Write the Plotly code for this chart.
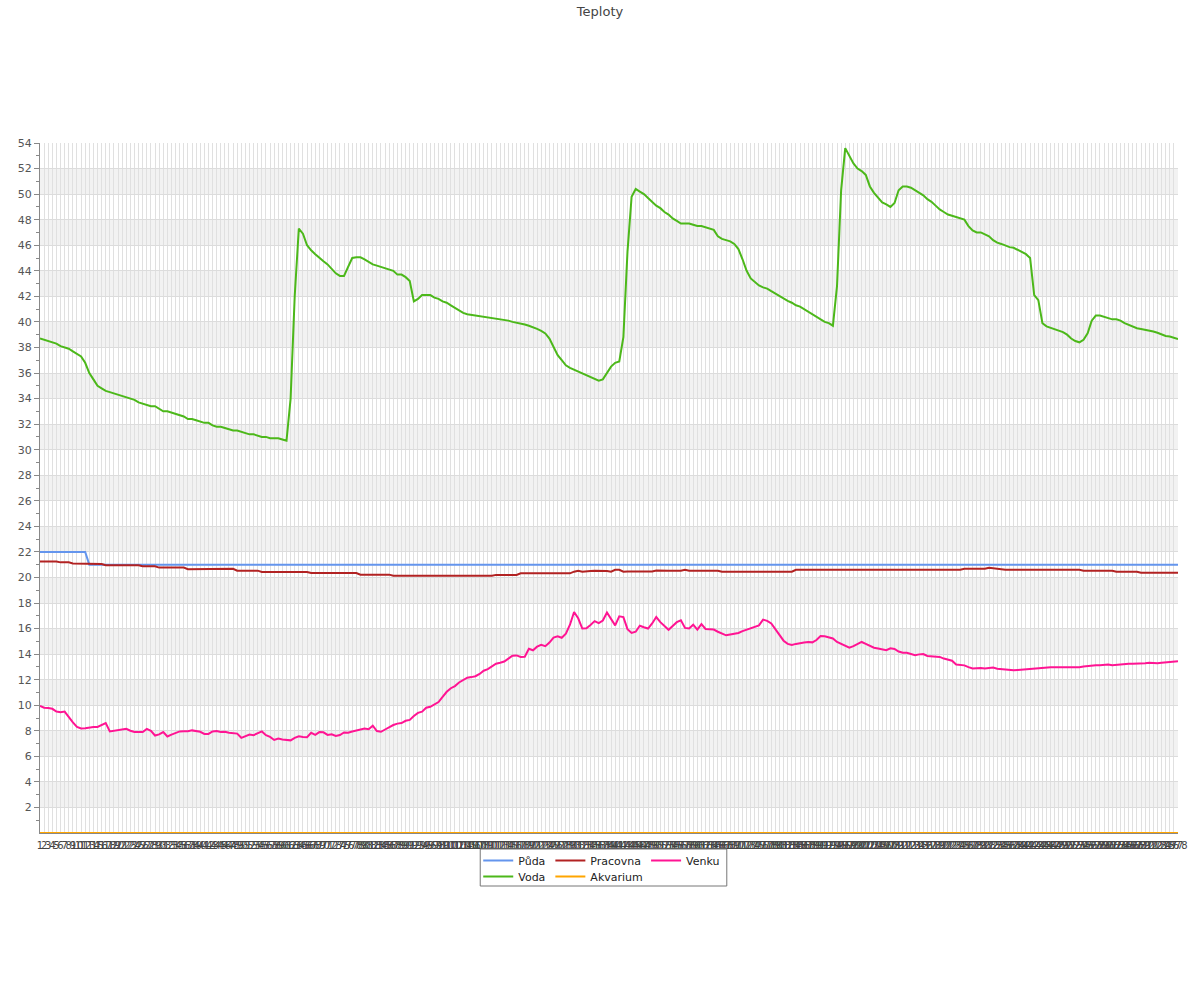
import plotly.graph_objects as go

categories = [str(i) for i in range(1, 279)]

puda = [
    22.0, 22.0, 22.0, 22.0, 22.0, 22.0, 22.0, 22.0, 22.0, 22.0,
    22.0, 22.0, 21.0, 21.0, 21.0, 21.0, 21.0, 21.0, 21.0, 21.0,
    21.0, 21.0, 21.0, 21.0, 21.0, 21.0, 21.0, 21.0, 21.0, 21.0,
    21.0, 21.0, 21.0, 21.0, 21.0, 21.0, 21.0, 21.0, 21.0, 21.0,
    21.0, 21.0, 21.0, 21.0, 21.0, 21.0, 21.0, 21.0, 21.0, 21.0,
    21.0, 21.0, 21.0, 21.0, 21.0, 21.0, 21.0, 21.0, 21.0, 21.0,
    21.0, 21.0, 21.0, 21.0, 21.0, 21.0, 21.0, 21.0, 21.0, 21.0,
    21.0, 21.0, 21.0, 21.0, 21.0, 21.0, 21.0, 21.0, 21.0, 21.0,
    21.0, 21.0, 21.0, 21.0, 21.0, 21.0, 21.0, 21.0, 21.0, 21.0,
    21.0, 21.0, 21.0, 21.0, 21.0, 21.0, 21.0, 21.0, 21.0, 21.0,
    21.0, 21.0, 21.0, 21.0, 21.0, 21.0, 21.0, 21.0, 21.0, 21.0,
    21.0, 21.0, 21.0, 21.0, 21.0, 21.0, 21.0, 21.0, 21.0, 21.0,
    21.0, 21.0, 21.0, 21.0, 21.0, 21.0, 21.0, 21.0, 21.0, 21.0,
    21.0, 21.0, 21.0, 21.0, 21.0, 21.0, 21.0, 21.0, 21.0, 21.0,
    21.0, 21.0, 21.0, 21.0, 21.0, 21.0, 21.0, 21.0, 21.0, 21.0,
    21.0, 21.0, 21.0, 21.0, 21.0, 21.0, 21.0, 21.0, 21.0, 21.0,
    21.0, 21.0, 21.0, 21.0, 21.0, 21.0, 21.0, 21.0, 21.0, 21.0,
    21.0, 21.0, 21.0, 21.0, 21.0, 21.0, 21.0, 21.0, 21.0, 21.0,
    21.0, 21.0, 21.0, 21.0, 21.0, 21.0, 21.0, 21.0, 21.0, 21.0,
    21.0, 21.0, 21.0, 21.0, 21.0, 21.0, 21.0, 21.0, 21.0, 21.0,
    21.0, 21.0, 21.0, 21.0, 21.0, 21.0, 21.0, 21.0, 21.0, 21.0,
    21.0, 21.0, 21.0, 21.0, 21.0, 21.0, 21.0, 21.0, 21.0, 21.0,
    21.0, 21.0, 21.0, 21.0, 21.0, 21.0, 21.0, 21.0, 21.0, 21.0,
    21.0, 21.0, 21.0, 21.0, 21.0, 21.0, 21.0, 21.0, 21.0, 21.0,
    21.0, 21.0, 21.0, 21.0, 21.0, 21.0, 21.0, 21.0, 21.0, 21.0,
    21.0, 21.0, 21.0, 21.0, 21.0, 21.0, 21.0, 21.0, 21.0, 21.0,
    21.0, 21.0, 21.0, 21.0, 21.0, 21.0, 21.0, 21.0, 21.0, 21.0,
    21.0, 21.0, 21.0, 21.0, 21.0, 21.0, 21.0, 21.0,
]

voda = [
    38.7, 38.6, 38.5, 38.4, 38.3, 38.1, 38.0, 37.9, 37.7, 37.5,
    37.3, 36.8, 36.0, 35.5, 35.0, 34.8, 34.6, 34.5, 34.4, 34.3,
    34.2, 34.1, 34.0, 33.9, 33.7, 33.6, 33.5, 33.4, 33.4, 33.2,
    33.0, 33.0, 32.9, 32.8, 32.7, 32.6, 32.4, 32.4, 32.3, 32.2,
    32.1, 32.1, 31.9, 31.8, 31.8, 31.7, 31.6, 31.5, 31.5, 31.4,
    31.3, 31.2, 31.2, 31.1, 31.0, 31.0, 30.9, 30.9, 30.9, 30.8,
    30.7, 34.0, 42.0, 47.3, 46.9, 46.0, 45.6, 45.3, 45.0, 44.75,
    44.5, 44.15, 43.8, 43.6, 43.6, 44.3, 45.0, 45.05, 45.05, 44.9,
    44.7, 44.5, 44.4, 44.3, 44.2, 44.1, 44.0, 43.7, 43.7, 43.5,
    43.2, 41.6, 41.8, 42.1, 42.1, 42.1, 41.9, 41.8, 41.6, 41.5,
    41.3, 41.1, 40.9, 40.7, 40.6, 40.55, 40.5, 40.45, 40.4, 40.35,
    40.3, 40.3, 40.25, 40.2, 40.1, 40.0, 39.95, 39.85, 39.8, 39.7,
    39.6, 39.45, 39.3, 39.1, 38.7, 38.0, 37.4, 37.0, 36.6, 36.4,
    36.25, 36.1, 36.0, 35.85, 35.7, 35.5, 35.4, 35.5, 36.0, 36.5,
    36.8, 36.9, 38.8, 45.5, 49.8, 50.4, 50.2, 50.0, 49.7, 49.4,
    49.1, 48.9, 48.6, 48.4, 48.1, 47.9, 47.7, 47.7, 47.7, 47.6,
    47.5, 47.5, 47.4, 47.35, 47.2, 46.7, 46.5, 46.4, 46.3, 46.1,
    45.7, 44.9, 44.0, 43.4, 43.1, 42.85, 42.7, 42.6, 42.4, 42.2,
    42.0, 41.85, 41.65, 41.5, 41.3, 41.2, 41.0, 40.8, 40.6, 40.45,
    40.25, 40.0, 39.9, 39.7, 42.8, 50.3, 53.6, 53.0, 52.4, 52.0,
    51.8, 51.5, 50.6, 50.1, 49.7, 49.35, 49.2, 49.0, 49.3, 50.3,
    50.6, 50.6, 50.5, 50.3, 50.1, 49.9, 49.6, 49.4, 49.1, 48.8,
    48.6, 48.4, 48.3, 48.2, 48.1, 48.0, 47.5, 47.15, 47.0, 47.0,
    46.85, 46.7, 46.4, 46.2, 46.1, 45.95, 45.85, 45.8, 45.65, 45.5,
    45.3, 45.0, 42.1, 41.7, 39.9, 39.65, 39.55, 39.45, 39.35, 39.2,
    39.0, 38.7, 38.5, 38.4, 38.6, 39.1, 40.1, 40.5, 40.5, 40.4,
    40.35, 40.2, 40.2, 40.1, 39.9, 39.75, 39.6, 39.5, 39.45, 39.4,
    39.3, 39.25, 39.15, 39.0, 38.9, 38.85, 38.75, 38.65,
]

pracovna = [
    21.25, 21.25, 21.25, 21.25, 21.25, 21.18, 21.18, 21.18, 21.1, 21.1,
    21.1, 21.1, 21.05, 21.05, 21.05, 21.05, 20.95, 20.95, 20.95, 20.95,
    20.95, 20.95, 20.95, 20.95, 20.95, 20.87, 20.87, 20.87, 20.87, 20.77,
    20.77, 20.77, 20.77, 20.77, 20.77, 20.77, 20.65, 20.65, 20.65, 20.65,
    20.65, 20.65, 20.65, 20.65, 20.65, 20.65, 20.65, 20.68, 20.53, 20.53,
    20.53, 20.53, 20.53, 20.53, 20.43, 20.43, 20.43, 20.43, 20.43, 20.43,
    20.43, 20.43, 20.43, 20.43, 20.43, 20.43, 20.35, 20.35, 20.35, 20.35,
    20.35, 20.35, 20.35, 20.35, 20.35, 20.35, 20.35, 20.35, 20.22, 20.22,
    20.22, 20.22, 20.22, 20.22, 20.22, 20.22, 20.14, 20.14, 20.14, 20.14,
    20.14, 20.14, 20.14, 20.14, 20.14, 20.14, 20.14, 20.14, 20.14, 20.14,
    20.14, 20.14, 20.14, 20.14, 20.14, 20.14, 20.14, 20.14, 20.14, 20.14,
    20.14, 20.2, 20.2, 20.2, 20.2, 20.2, 20.2, 20.32, 20.32, 20.32,
    20.32, 20.32, 20.32, 20.32, 20.32, 20.32, 20.32, 20.32, 20.32, 20.32,
    20.45, 20.53, 20.45, 20.45, 20.5, 20.53, 20.53, 20.53, 20.5, 20.45,
    20.6, 20.6, 20.45, 20.47, 20.47, 20.47, 20.47, 20.52, 20.47, 20.47,
    20.55, 20.53, 20.53, 20.53, 20.53, 20.53, 20.53, 20.6, 20.53, 20.53,
    20.53, 20.53, 20.53, 20.53, 20.53, 20.53, 20.45, 20.45, 20.45, 20.45,
    20.45, 20.45, 20.45, 20.45, 20.45, 20.45, 20.45, 20.45, 20.45, 20.45,
    20.45, 20.45, 20.45, 20.45, 20.6, 20.6, 20.6, 20.6, 20.6, 20.6,
    20.6, 20.6, 20.6, 20.6, 20.6, 20.6, 20.6, 20.6, 20.6, 20.6,
    20.6, 20.6, 20.6, 20.6, 20.6, 20.6, 20.6, 20.6, 20.6, 20.6,
    20.6, 20.6, 20.6, 20.6, 20.6, 20.6, 20.6, 20.6, 20.6, 20.6,
    20.6, 20.6, 20.6, 20.6, 20.6, 20.68, 20.68, 20.68, 20.68, 20.68,
    20.68, 20.75, 20.7, 20.7, 20.6, 20.6, 20.6, 20.6, 20.6, 20.6,
    20.6, 20.6, 20.6, 20.6, 20.6, 20.6, 20.6, 20.6, 20.6, 20.6,
    20.6, 20.6, 20.6, 20.6, 20.53, 20.53, 20.53, 20.53, 20.53, 20.53,
    20.53, 20.53, 20.45, 20.45, 20.45, 20.45, 20.45, 20.45, 20.37, 20.37,
    20.37, 20.37, 20.37, 20.37, 20.37, 20.37, 20.37, 20.37,
]

akvarium = [
    0, 0, 0, 0, 0, 0, 0, 0, 0, 0, 0, 0, 0, 0, 0, 0, 0, 0, 0, 0,
    0, 0, 0, 0, 0, 0, 0, 0, 0, 0, 0, 0, 0, 0, 0, 0, 0, 0, 0, 0,
    0, 0, 0, 0, 0, 0, 0, 0, 0, 0, 0, 0, 0, 0, 0, 0, 0, 0, 0, 0,
    0, 0, 0, 0, 0, 0, 0, 0, 0, 0, 0, 0, 0, 0, 0, 0, 0, 0, 0, 0,
    0, 0, 0, 0, 0, 0, 0, 0, 0, 0, 0, 0, 0, 0, 0, 0, 0, 0, 0, 0,
    0, 0, 0, 0, 0, 0, 0, 0, 0, 0, 0, 0, 0, 0, 0, 0, 0, 0, 0, 0,
    0, 0, 0, 0, 0, 0, 0, 0, 0, 0, 0, 0, 0, 0, 0, 0, 0, 0, 0, 0,
    0, 0, 0, 0, 0, 0, 0, 0, 0, 0, 0, 0, 0, 0, 0, 0, 0, 0, 0, 0,
    0, 0, 0, 0, 0, 0, 0, 0, 0, 0, 0, 0, 0, 0, 0, 0, 0, 0, 0, 0,
    0, 0, 0, 0, 0, 0, 0, 0, 0, 0, 0, 0, 0, 0, 0, 0, 0, 0, 0, 0,
    0, 0, 0, 0, 0, 0, 0, 0, 0, 0, 0, 0, 0, 0, 0, 0, 0, 0, 0, 0,
    0, 0, 0, 0, 0, 0, 0, 0, 0, 0, 0, 0, 0, 0, 0, 0, 0, 0, 0, 0,
    0, 0, 0, 0, 0, 0, 0, 0, 0, 0, 0, 0, 0, 0, 0, 0, 0, 0, 0, 0,
    0, 0, 0, 0, 0, 0, 0, 0, 0, 0, 0, 0, 0, 0, 0, 0, 0, 0,
]

venku = [
    9.95, 9.8, 9.78, 9.72, 9.5, 9.45, 9.5, 9.05, 8.65, 8.3,
    8.18, 8.2, 8.28, 8.3, 8.3, 8.45, 8.6, 7.95, 8.0, 8.1,
    8.15, 8.15, 8.0, 7.9, 7.9, 7.9, 8.15, 8.0, 7.63, 7.72,
    7.9, 7.55, 7.7, 7.82, 7.95, 7.97, 7.97, 8.03, 8.0, 7.92,
    7.75, 7.75, 7.95, 7.98, 7.9, 7.92, 7.85, 7.84, 7.78, 7.45,
    7.55, 7.7, 7.66, 7.8, 7.95, 7.65, 7.52, 7.28, 7.4, 7.32,
    7.26, 7.25, 7.45, 7.57, 7.52, 7.5, 7.84, 7.68, 7.9, 7.88,
    7.68, 7.73, 7.6, 7.67, 7.87, 7.85, 7.95, 8.02, 8.05, 8.17,
    8.12, 8.4, 7.98, 7.92, 8.1, 8.28, 8.45, 8.56, 8.6, 8.78,
    8.85, 9.15, 9.4, 9.5, 9.8, 9.88, 10.05, 10.25, 10.65, 11.05,
    11.33, 11.5, 11.78, 12.0, 12.15, 12.2, 12.27, 12.45, 12.7, 12.82,
    13.05, 13.25, 13.32, 13.42, 13.65, 13.88, 13.9, 13.78, 13.8, 14.42,
    14.3, 14.58, 14.72, 14.62, 14.9, 15.3, 15.4, 15.28, 15.6, 16.3,
    17.3, 16.8, 16.0, 16.02, 16.28, 16.58, 16.42, 16.63, 17.25, 16.75,
    16.25, 16.96, 16.9, 15.95, 15.66, 15.75, 16.22, 16.1, 16.0, 16.4,
    16.9, 16.5, 16.2, 15.9, 16.2, 16.5, 16.65, 16.05, 16.0, 16.3,
    15.92, 16.35, 15.97, 15.92, 15.92, 15.75, 15.6, 15.47, 15.53, 15.58,
    15.65, 15.8, 15.9, 16.0, 16.1, 16.25, 16.7, 16.6, 16.4, 15.93,
    15.5, 15.05, 14.8, 14.72, 14.8, 14.87, 14.9, 14.95, 14.92, 15.1,
    15.42, 15.4, 15.3, 15.22, 14.95, 14.8, 14.65, 14.5, 14.62, 14.78,
    14.95, 14.8, 14.65, 14.5, 14.44, 14.35, 14.3, 14.45, 14.4, 14.2,
    14.1, 14.1, 14.0, 13.92, 13.98, 14.0, 13.85, 13.83, 13.83, 13.78,
    13.65, 13.55, 13.48, 13.18, 13.15, 13.12, 12.98, 12.87, 12.9, 12.92,
    12.88, 12.93, 12.95, 12.86, 12.82, 12.78, 12.76, 12.74, 12.76, 12.79,
    12.83, 12.87, 12.87, 12.88, 12.92, 12.94, 12.97, 12.97, 12.97, 12.97,
    12.97, 12.97, 12.97, 12.97, 13.03, 13.07, 13.1, 13.13, 13.13, 13.15,
    13.18, 13.13, 13.17, 13.21, 13.24, 13.24, 13.24, 13.24, 13.24, 13.28,
    13.32, 13.28, 13.28, 13.32, 13.36, 13.4, 13.42, 13.45,
]

y_tickvals = [2, 4, 6, 8, 10, 12, 14, 16, 18, 20, 22, 24, 26, 28,
              30, 32, 34, 36, 38, 40, 42, 44, 46, 48, 50, 52, 54]
y_minorvals = [1, 3, 5, 7, 9, 11, 13, 15, 17, 19, 21, 23, 25, 27,
               29, 31, 33, 35, 37, 39, 41, 43, 45, 47, 49, 51, 53]
band_starts = [2, 6, 10, 14, 18, 22, 26, 30, 34, 38, 42, 46, 50]

FONT = "DejaVu Sans"
series = [
    ("Půda", puda, "#6495ED", "legend"),
    ("Pracovna", pracovna, "#B22222", "legend"),
    ("Venku", venku, "#FF1493", "legend"),
    ("Voda", voda, "#4CB81A", "legend2"),
    ("Akvarium", akvarium, "#FFA500", "legend2"),
]

fig = go.Figure()
for name, vals, color, lg in series:
    fig.add_trace(go.Scatter(
        x=categories, y=vals, name=name, mode="lines",
        line=dict(color=color, width=2), legend=lg,
    ))

PL, PT, PW, PH = 40, 143, 1140, 690


def px_x(v):
    return (v - PL) / PW


def px_y(v):
    return (PT + PH - v) / PH


shapes = []
for b in band_starts:
    shapes.append(dict(type="rect", xref="paper", yref="y", x0=0, x1=1,
                       y0=b, y1=b + 2, fillcolor="#F2F2F2",
                       line=dict(width=0), layer="below"))
# legend border box
shapes.append(dict(type="rect", xref="paper", yref="paper",
                   x0=px_x(481), x1=px_x(728), y0=px_y(886), y1=px_y(849),
                   line=dict(color="#777777", width=1), fillcolor="rgba(0,0,0,0)",
                   layer="above"))

legend_common = dict(orientation="h", xanchor="left", yanchor="top",
                     bgcolor="rgba(0,0,0,0)", borderwidth=0,
                     font=dict(family=FONT, size=11, color="#222222"),
                     itemwidth=30, tracegroupgap=0)

fig.update_layout(
    width=1200, height=1000,
    margin=dict(l=40, r=20, t=143, b=167),
    paper_bgcolor="white", plot_bgcolor="white",
    font=dict(family=FONT, size=11, color="#444444"),
    title=dict(text="Teploty", x=0.5, xanchor="center", y=0.989, yanchor="middle",
               font=dict(family=FONT, size=13, color="#444444")),
    shapes=shapes,
    legend=dict(x=px_x(479), y=px_y(846), **legend_common),
    legend2=dict(x=px_x(479), y=px_y(862), **legend_common),
    xaxis=dict(
        type="category", range=[0, 277], tickmode="linear", tick0=0, dtick=1,
        tickangle=0, showgrid=True, gridcolor="#E0E0E0", gridwidth=1,
        showline=True, linecolor="#888888", linewidth=1,
        ticks="outside", ticklen=3, tickcolor="rgba(0,0,0,0)",
        tickfont=dict(family=FONT, size=10, color="#444444"),
        zeroline=False, fixedrange=True,
    ),
    yaxis=dict(
        range=[0, 54], tickmode="array", tickvals=y_tickvals,
        showgrid=True, gridcolor="#DCDCDC", gridwidth=1,
        showline=True, linecolor="#888888", linewidth=1,
        ticks="outside", ticklen=5, tickcolor="#888888",
        tickfont=dict(family=FONT, size=11, color="#555555"),
        minor=dict(tickmode="array", tickvals=y_minorvals, ticks="outside",
                   ticklen=3, tickcolor="#888888", showgrid=False),
        zeroline=False, fixedrange=True,
    ),
    showlegend=True,
)

fig.write_html("out.html",
               config={"displayModeBar": False},
               post_script="document.body.style.margin='0';document.body.style.padding='0';")
